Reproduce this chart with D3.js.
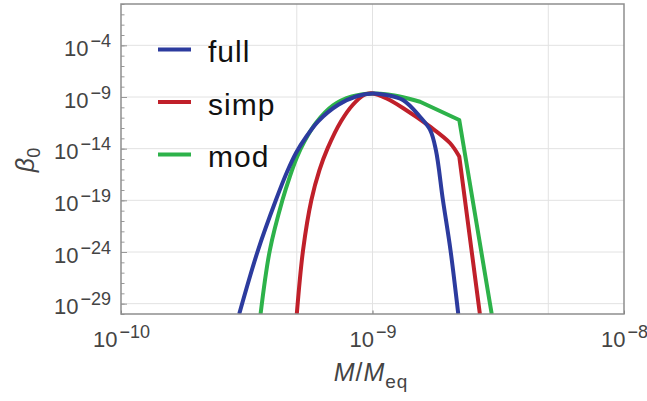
<!DOCTYPE html>
<html><head><meta charset="utf-8">
<script src="https://cdn.jsdelivr.net/npm/d3@7"></script>
<style>
body{margin:0;background:#fff;}
svg{display:block;}
text{font-family:"Liberation Sans",Arial,sans-serif;}
</style></head><body>
<svg id="c" width="647" height="401"></svg>
<script>
// ---- data (log10 values) ----
const xTickExps = [-10, -9, -8];
const xGridValues = [5e-10, 1e-9, 5e-9];
const yTickExps = [-29, -24, -19, -14, -9, -4];
const yMinorExps = d3.range(-30, 1);
const seriesNames = ["full", "simp", "mod"];
const seriesColors = ["#2c3b9e", "#c0202a", "#2db24a"];

const fullLogM    = [-9.530, -9.455, -9.384, -9.340, -9.302, -9.264, -9.216, -9.136, -9.063, -8.998, -8.944, -8.879, -8.811, -8.771, -8.748, -8.720, -8.690, -8.659];
const fullLogBeta = [-30.0, -23.81, -18.97, -16.26, -14.32, -12.87, -11.35, -9.75, -8.93, -8.66, -8.81, -9.29, -10.91, -12.19, -14.13, -18.97, -23.8, -30.0];

const simpLogM    = [-9.301, -9.276, -9.243, -9.211, -9.179, -9.125, -9.078, -9.032, -8.998, -8.944, -8.879, -8.771, -8.692, -8.655];
const simpLogBeta = [-30.0, -23.8, -18.97, -16.07, -14.0, -11.35, -9.75, -8.78, -8.66, -9.15, -10.06, -11.87, -13.45, -14.76];
const simpTailLogM    = [-8.573];
const simpTailLogBeta = [-30.0];

const modLogM    = [-9.445, -9.408, -9.358, -9.328, -9.300, -9.272, -9.225, -9.157, -9.082, -8.998, -8.938, -8.879, -8.811];
const modLogBeta = [-30.0, -23.81, -18.97, -16.65, -14.81, -13.36, -11.52, -9.82, -8.95, -8.66, -8.76, -9.03, -9.455];
const modTailLogM    = [-8.655, -8.526];
const modTailLogBeta = [-11.23, -30.0];

// ---- layout ----
const L = 121, R = 624, T = 4, B = 314;
const svg = d3.select("#c");
const x = d3.scaleLog().domain([1e-10, 1e-8]).range([L, R]);
const y = d3.scaleLog().domain([1e-30, 1]).range([B, T]);
const p10 = e => Math.pow(10, e);

// grid
svg.append("g").selectAll("line").data(xGridValues).join("line")
  .attr("x1", d => x(d)).attr("x2", d => x(d)).attr("y1", T).attr("y2", B)
  .attr("stroke", "#e2e2e2").attr("stroke-width", 1);
svg.append("g").selectAll("line").data(yTickExps).join("line")
  .attr("x1", L).attr("x2", R).attr("y1", d => y(p10(d))).attr("y2", d => y(p10(d)))
  .attr("stroke", "#e2e2e2").attr("stroke-width", 1);

// curves
svg.append("clipPath").attr("id", "pc").append("rect")
  .attr("x", L).attr("y", T).attr("width", R - L).attr("height", B - T);
const line = d3.line().x(d => x(d[0])).y(d => y(d[1])).curve(d3.curveCatmullRom.alpha(0.5));
const pts = (lm, lb) => lm.map((m, i) => [p10(m), p10(lb[i])]);
function pathFor(lm, lb, tm, tb) {
  let d = line(pts(lm, lb));
  if (tm) d += pts(tm, tb).map(p => "L" + x(p[0]) + "," + y(p[1])).join("");
  return d;
}
const series = [
  {d: pathFor(modLogM, modLogBeta, modTailLogM, modTailLogBeta), c: seriesColors[2]},
  {d: pathFor(simpLogM, simpLogBeta, simpTailLogM, simpTailLogBeta), c: seriesColors[1]},
  {d: pathFor(fullLogM, fullLogBeta), c: seriesColors[0]}
];
svg.append("g").attr("clip-path", "url(#pc)").selectAll("path").data(series).join("path")
  .attr("d", s => s.d).attr("fill", "none").attr("stroke", s => s.c)
  .attr("stroke-width", 4).attr("stroke-linejoin", "round");

// axes
const supLabel = (sel, e) => {
  sel.text(null);
  sel.append("tspan").text("10");
  sel.append("tspan").attr("dy", -9).attr("dx", 2).style("font-size", "18px").text("\u2212" + Math.abs(e));
};
const yAxis = svg.append("g").attr("transform", `translate(${L},0)`)
  .call(d3.axisLeft(y).tickValues(yTickExps.map(p10)).tickSize(-6).tickPadding(0).tickFormat(""));
yAxis.selectAll(".tick line").attr("stroke", "#999");
yAxis.select(".domain").remove();
yAxis.selectAll(".tick").each(function (d) {
  const e = Math.round(Math.log10(d));
  const t = d3.select(this).select("text")
    .attr("x", -10).attr("dy", null).attr("y", 10)
    .attr("text-anchor", "end").attr("fill", "#444").style("font-size", "22px");
  supLabel(t, e);
});
const yMinor = svg.append("g").attr("transform", `translate(${L},0)`)
  .call(d3.axisLeft(y).tickValues(yMinorExps.map(p10)).tickSize(-3.5).tickFormat(""));
yMinor.selectAll(".tick line").attr("stroke", "#999");
yMinor.select(".domain").remove();

const xAxis = svg.append("g").attr("transform", `translate(0,${B})`)
  .call(d3.axisBottom(x).tickValues(xTickExps.map(p10)).tickSize(-3.5).tickPadding(0).tickFormat(""));
xAxis.selectAll(".tick line").attr("stroke", "#777");
xAxis.select(".domain").remove();
xAxis.selectAll(".tick").each(function (d) {
  const e = Math.round(Math.log10(d));
  const t = d3.select(this).select("text")
    .attr("y", 33).attr("dy", null).attr("x", 0)
    .attr("text-anchor", "middle").attr("fill", "#444").style("font-size", "22px");
  supLabel(t, e);
});

// frame
svg.append("rect").attr("x", L).attr("y", T).attr("width", R - L).attr("height", B - T)
  .attr("fill", "none").attr("stroke", "#8e8e8e").attr("stroke-width", 1.5);

// axis titles
const xt = svg.append("text").attr("x", 371).attr("y", 381).attr("text-anchor", "middle")
  .attr("fill", "#444").style("font-size", "25px").style("letter-spacing", "1px");
xt.append("tspan").style("font-style", "italic").text("M");
xt.append("tspan").text("/");
xt.append("tspan").style("font-style", "italic").text("M");
xt.append("tspan").attr("dy", 7).style("font-size", "19px").text("eq");

const yt = svg.append("text").attr("transform", "translate(34,160) rotate(-90)")
  .attr("text-anchor", "middle").attr("fill", "#444").style("font-size", "25px");
yt.append("tspan").style("font-style", "italic").text("\u03B2");
yt.append("tspan").attr("dy", 6).style("font-size", "18px").text("0");

// legend
const lg = svg.append("g").selectAll("g").data(seriesNames).join("g")
  .attr("transform", (d, i) => `translate(158,${62 + i * 52.5})`);
lg.append("line").attr("x1", 0).attr("x2", 33).attr("y1", -12.5).attr("y2", -12.5)
  .attr("stroke", (d, i) => seriesColors[i]).attr("stroke-width", 4);
lg.append("text").attr("x", 50).attr("y", 0).attr("fill", "#111")
  .style("font-size", "30px").style("letter-spacing", "1px").text(d => d);
</script>
</body></html>
